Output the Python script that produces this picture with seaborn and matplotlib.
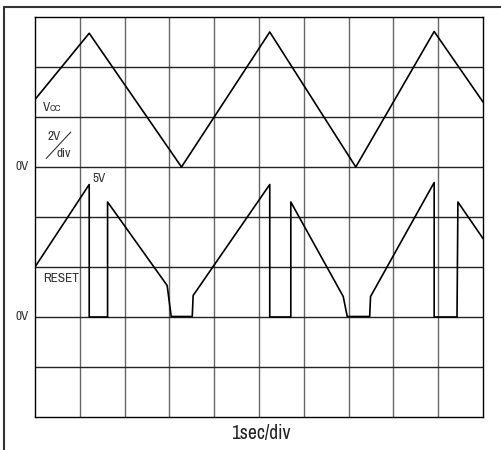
import matplotlib
matplotlib.use("Agg")
import matplotlib.pyplot as plt
from matplotlib import font_manager
import seaborn as sns
import pandas as pd
from matplotlib.lines import Line2D

# ---- data (time in seconds, voltage in volts, 2V/div) ----
vcc_t = [0.0, 1.21, 3.27, 5.24, 7.16, 8.91, 10.0]
vcc_v = [2.7, 5.35, 0.0, 5.4, 0.0, 5.42, 2.6]

reset_t = [0.0, 1.21, 1.21, 1.62, 1.62, 2.95, 3.04, 3.51, 3.53, 5.24, 5.24,
           5.71, 5.71, 6.88, 6.97, 7.47, 7.49, 8.91, 8.91, 9.42, 9.44, 10.0]
reset_v = [2.0, 5.3, 0.0, 0.0, 4.6, 1.26, 0.02, 0.02, 0.86, 5.3, 0.0,
           0.0, 4.6, 0.82, 0.02, 0.02, 0.82, 5.38, 0.0, 0.0, 4.6, 3.14]

VOLT_PER_DIV = 2.0
VCC_OFFSET_DIV = 5   # Vcc 0V line (division from bottom)
RESET_OFFSET_DIV = 2  # RESET 0V line

sns.set_theme(style="white")
available = {f.name for f in font_manager.fontManager.ttflist}
prefs = ['Liberation Sans Narrow', 'Arial Narrow', 'Archivo Narrow',
         'Roboto Condensed', 'Barlow Semi Condensed']
families = [f for f in prefs if f in available] + ['Liberation Sans', 'DejaVu Sans']
plt.rcParams['font.family'] = families

fig = plt.figure(figsize=(5.02, 4.5), dpi=100)
ax = fig.add_axes([35/502, 33/450, 448/502, 400/450])

df_vcc = pd.DataFrame({"t": vcc_t,
                       "y": [v / VOLT_PER_DIV + VCC_OFFSET_DIV for v in vcc_v]})
df_rst = pd.DataFrame({"t": reset_t,
                       "y": [v / VOLT_PER_DIV + RESET_OFFSET_DIV for v in reset_v]})

sns.lineplot(data=df_vcc, x="t", y="y", sort=False, estimator=None,
             color="black", linewidth=1.2, ax=ax, zorder=3)
sns.lineplot(data=df_rst, x="t", y="y", sort=False, estimator=None,
             color="black", linewidth=1.2, ax=ax, zorder=3)

ax.set_xlim(0, 10)
ax.set_ylim(0, 8)
for i in range(1, 10):
    ax.axvline(i, color="#666666", linewidth=1.0, zorder=1)
for j in range(1, 8):
    ax.axhline(j, color="#222222", linewidth=1.0, zorder=1)
for s in ax.spines.values():
    s.set_color("black")
    s.set_linewidth(1.0)
    s.set_visible(True)
ax.set_xticks([])
ax.set_yticks([])
ax.set_xlabel("")
ax.set_ylabel("")

# outer frame (left and top)
fig.add_artist(Line2D([4/502, 4/502], [0, 1 - 7/450], transform=fig.transFigure,
                      color="#333333", linewidth=1.5))
fig.add_artist(Line2D([4/502, 1], [1 - 7/450, 1 - 7/450], transform=fig.transFigure,
                      color="#333333", linewidth=1.5))

fs = 9.5
col = "#333333"
# 0V labels
ax.text(-0.13, VCC_OFFSET_DIV, "0V", ha="right", va="center", fontsize=fs, color=col)
ax.text(-0.13, RESET_OFFSET_DIV, "0V", ha="right", va="center", fontsize=fs, color=col)
# Vcc label
ax.text(0.18, 6.12, "V", ha="left", va="baseline", fontsize=fs, color=col)
ax.text(0.32, 6.12, "CC", ha="left", va="baseline", fontsize=fs * 0.75, color=col)
# 2V/div
ax.text(0.29, 5.53, "2V", ha="left", va="baseline", fontsize=fs, color=col)
ax.text(0.49, 5.2, "div", ha="left", va="baseline", fontsize=fs, color=col)
ax.plot([0.25, 0.8], [5.17, 5.7], color=col, linewidth=0.8)
# 5V
ax.text(1.29, 4.76, "5V", ha="left", va="center", fontsize=fs, color=col)
# RESET
ax.text(0.185, 2.77, "RESET", ha="left", va="center", fontsize=fs, color=col)

fig.text(261/502, 1 - 434/450, "1sec/div", ha="center", va="center",
         fontsize=14, color="#222222")

fig.savefig("out.png", dpi=100, facecolor="white")
